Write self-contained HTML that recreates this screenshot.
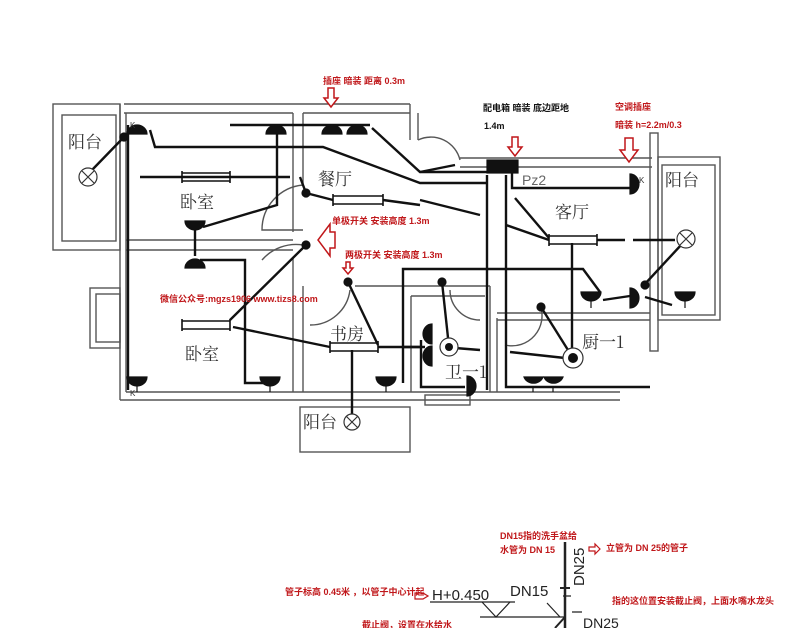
<!DOCTYPE html>
<html><head><meta charset="utf-8"><style>
html,body{margin:0;padding:0;background:#fff;}
svg{display:block;}
text{font-family:"Liberation Sans","Noto Sans CJK SC",sans-serif;}
.r{fill:#c0171a;font-size:9px;font-weight:bold;}
.k{fill:#111;font-size:9px;font-weight:bold;}
.rm{fill:#333;font-size:17px;font-family:"Noto Serif CJK SC","Noto Sans CJK SC",serif;}
</style></head><body>
<svg width="790" height="628" viewBox="0 0 790 628" xmlns="http://www.w3.org/2000/svg">
<rect width="790" height="628" fill="#fff"/>
<!-- walls -->
<g fill="none" stroke="#555" stroke-width="1.4">
 <rect x="53" y="104" width="67" height="146"/>
 <rect x="62" y="115" width="54" height="126"/>
 <line x1="124" y1="104" x2="410" y2="104"/>
 <line x1="124" y1="113" x2="293" y2="113"/>
 <line x1="303" y1="113" x2="410" y2="113"/>
 <line x1="120" y1="104" x2="120" y2="400"/>
 <line x1="126" y1="113" x2="126" y2="392"/>
 <line x1="293" y1="113" x2="293" y2="232"/>
 <line x1="303" y1="113" x2="303" y2="185"/>
 <line x1="126" y1="240" x2="293" y2="240"/>
 <line x1="126" y1="250" x2="293" y2="250"/>
 <line x1="293" y1="258" x2="293" y2="392"/>
 <line x1="303" y1="286" x2="303" y2="392"/>
 <line x1="120" y1="400" x2="620" y2="400"/>
 <line x1="126" y1="392" x2="620" y2="392"/>
 <rect x="90" y="288" width="30" height="60"/>
 <rect x="96" y="294" width="24" height="48"/>
 <rect x="300" y="407" width="110" height="45"/>
 <line x1="410" y1="104" x2="410" y2="140"/>
 <line x1="418" y1="113" x2="418" y2="140"/>
 <line x1="460" y1="158" x2="652" y2="158"/>
 <line x1="460" y1="167" x2="652" y2="167"/>
 <rect x="650" y="133" width="8" height="218"/>
 <rect x="658" y="157" width="62" height="163"/>
 <rect x="662" y="165" width="53" height="150"/>
 <line x1="355" y1="286" x2="400" y2="286"/>
 <line x1="400" y1="286" x2="490" y2="286"/>
 <line x1="411" y1="296" x2="485" y2="296"/>
 <line x1="411" y1="296" x2="411" y2="392"/>
 <line x1="490" y1="286" x2="490" y2="392"/>
 <line x1="497" y1="318" x2="497" y2="392"/>
 <line x1="497" y1="313" x2="650" y2="313"/>
 <line x1="497" y1="320" x2="650" y2="320"/>
 <rect x="425" y="395" width="45" height="10"/>
 <path d="M303 185 A45 45 0 0 0 262 230 L303 230"/>
 <path d="M303 245 A45 45 0 0 0 262 260"/>
 <path d="M350 290 A40 40 0 0 1 310 325"/>
 <path d="M418 140 A30 30 0 0 1 460 160"/>
 <path d="M450 290 A30 30 0 0 0 480 320"/>
 <path d="M540 305 A30 30 0 0 1 505 345"/>
</g>
<!-- wiring -->
<g fill="none" stroke="#111" stroke-width="2.4">
 <polyline points="150,130 155,147 323,147 420,183 487,183"/>
 <line x1="230" y1="125" x2="370" y2="125"/>
 <polyline points="372,128 420,172 490,172"/>
 <line x1="140" y1="177" x2="290" y2="177"/>
 <polyline points="300,177 306,193 333,200"/>
 <line x1="383" y1="200" x2="420" y2="205"/>
 <line x1="92" y1="170" x2="124" y2="137"/>
 <line x1="128" y1="125" x2="128" y2="390"/>
 <polyline points="203,227 277,205 277,130"/>
 <line x1="195" y1="228" x2="195" y2="256"/>
 <polyline points="200,260 245,260 245,383 270,383"/>
 <polyline points="230,320 306,245"/>
 <polyline points="233,327 330,347"/>
 <line x1="378" y1="347" x2="420" y2="347"/>
 <polyline points="348,282 378,345"/>
 <line x1="352" y1="350" x2="352" y2="415"/>
 <polyline points="403,383 403,269 583,269 600,292"/>
 <line x1="420" y1="172" x2="455" y2="165"/>
 <polyline points="512,172 512,188 630,188"/>
 <polyline points="487,175 487,390"/>
 <polyline points="506,175 506,387 650,387"/>
 <polyline points="515,198 549,238"/>
 <line x1="420" y1="200" x2="480" y2="215"/>
 <line x1="506" y1="225" x2="549" y2="240"/>
 <line x1="597" y1="240" x2="625" y2="240"/>
 <line x1="633" y1="240" x2="675" y2="240"/>
 <line x1="572" y1="243" x2="572" y2="352"/>
 <line x1="644" y1="285" x2="682" y2="244"/>
 <polyline points="603,300 630,296"/>
 <polyline points="645,297 672,305"/>
 <polyline points="541,307 573,358"/>
 <line x1="510" y1="352" x2="565" y2="358"/>
 <polyline points="442,282 449,347"/>
 <line x1="455" y1="348" x2="480" y2="350"/>
 <polyline points="421,340 421,387 465,387"/>
 <line x1="403" y1="347" x2="425" y2="347"/>
</g>
<!-- tubes (double line) -->
<g fill="#fff" stroke="#111" stroke-width="1.6">
 <path d="M182 173 h48 M182 181 h48 M182 171 v12 M230 171 v12"/>
 <path d="M333 196 h50 M333 204 h50 M333 194 v12 M383 194 v12"/>
 <path d="M182 321 h48 M182 329 h48 M182 319 v12 M230 319 v12"/>
 <path d="M330 343 h48 M330 351 h48 M330 341 v12 M378 341 v12"/>
 <path d="M549 236 h48 M549 244 h48 M549 234 v12 M597 234 v12"/>
</g>
<!-- sockets -->
<g fill="#111" stroke="#111" stroke-width="1.2">
 <path d="M127 134 A10 9 0 0 1 147 134 Z"/>
 <path d="M266 134 A10 9 0 0 1 286 134 Z"/>
 <path d="M322 134 A10 9 0 0 1 342 134 Z"/>
 <path d="M347 134 A10 9 0 0 1 367 134 Z"/>
 <path d="M185 221 A10 9 0 0 0 205 221 Z"/>
 <path d="M185 268 A10 9 0 0 1 205 268 Z"/>
 <path d="M127 377 A10 9 0 0 0 147 377 Z"/><line x1="137" y1="386" x2="137" y2="392"/>
 <path d="M260 377 A10 9 0 0 0 280 377 Z"/><line x1="270" y1="386" x2="270" y2="392"/>
 <path d="M376 377 A10 9 0 0 0 396 377 Z"/><line x1="386" y1="386" x2="386" y2="392"/>
 <path d="M524 377 A10 9 0 0 0 543 377 Z"/><line x1="533" y1="386" x2="533" y2="392"/>
 <path d="M544 377 A10 9 0 0 0 563 377 Z"/><line x1="553" y1="386" x2="553" y2="392"/>
 <path d="M581 292 A10 9 0 0 0 601 292 Z"/><line x1="591" y1="301" x2="591" y2="308"/>
 <path d="M675 292 A10 9 0 0 0 695 292 Z"/><line x1="685" y1="301" x2="685" y2="308"/>
 <path d="M630 288 A9 10 0 0 1 630 308 Z"/>
 <path d="M630 174 A9 10 0 0 1 630 194 Z"/>
 <path d="M432 324 A9 10 0 0 0 432 344 Z"/>
 <path d="M432 346 A9 10 0 0 0 432 366 Z"/>
 <path d="M467 376 A9 10 0 0 1 467 396 Z"/>
 <rect x="487" y="160" width="31" height="13"/>
 <circle cx="124" cy="137" r="4"/><circle cx="306" cy="193" r="4"/>
 <circle cx="306" cy="245" r="4"/><circle cx="348" cy="282" r="4"/>
 <circle cx="442" cy="282" r="4"/><circle cx="541" cy="307" r="4"/>
 <circle cx="645" cy="285" r="4"/>
</g>
<!-- lamps -->
<g fill="#fff" stroke="#333" stroke-width="1.2">
 <circle cx="88" cy="177" r="9"/><path d="M82 171 L94 183 M94 171 L82 183"/>
 <circle cx="352" cy="422" r="8"/><path d="M346 416 L358 428 M358 416 L346 428"/>
 <circle cx="686" cy="239" r="9"/><path d="M680 233 L692 245 M692 233 L680 245"/>
 <circle cx="449" cy="347" r="9"/><circle cx="573" cy="358" r="10"/>
</g>
<circle cx="449" cy="347" r="4" fill="#111"/><circle cx="573" cy="358" r="5" fill="#111"/>
<!-- room labels -->
<text class="rm" x="68" y="148">阳台</text>
<text class="rm" x="180" y="208">卧室</text>
<text class="rm" x="318" y="185">餐厅</text>
<text class="rm" x="185" y="360">卧室</text>
<text class="rm" x="330" y="340">书房</text>
<text class="rm" x="303" y="428">阳台</text>
<text class="rm" x="555" y="218">客厅</text>
<text class="rm" x="665" y="186">阳台</text>
<text class="rm" x="582" y="348">厨一1</text>
<text class="rm" x="445" y="378">卫一1</text>
<text x="522" y="185" fill="#666" font-size="14">Pz2</text>
<text x="130" y="128" font-size="8" fill="#333">K</text>
<text x="639" y="183" font-size="8" fill="#333">K</text>
<text x="130" y="396" font-size="8" fill="#333">K</text>
<!-- annotations -->
<text class="r" x="323" y="84">插座 暗装 距离 0.3m</text>
<text class="k" x="483" y="111">配电箱 暗装 底边距地</text>
<text class="k" x="484" y="129">1.4m</text>
<text class="r" x="615" y="110">空调插座</text>
<text class="r" x="615" y="128">暗装 h=2.2m/0.3</text>
<text class="r" x="332" y="224">单极开关 安装高度 1.3m</text>
<text class="r" x="345" y="258">两极开关 安装高度 1.3m</text>
<text class="r" x="160" y="302">微信公众号:mgzs1906   www.tizs8.com</text>
<g fill="#fff" stroke="#c0171a" stroke-width="1.5">
 <path d="M328 88 h6 v10 h4 l-7 9 l-7 -9 h4 z"/>
 <path d="M512 137 h6 v10 h4 l-7 9 l-7 -9 h4 z"/>
 <path d="M625 138 h8 v12 h5 l-9 12 l-9 -12 h5 z"/>
 <path d="M330 232 v-8 l-12 16 l12 16 v-8 h5 v-16 z"/>
 <path d="M346 262 h4 v6 h3 l-5 6 l-5 -6 h3 z"/>
</g>
<!-- plumbing -->
<text class="r" x="500" y="539">DN15指的洗手盆给</text>
<text class="r" x="500" y="553">水管为 DN  15</text>
<text class="r" x="606" y="551">立管为  DN  25的管子</text>
<text class="r" x="285" y="595">管子标高 0.45米 ，以管子中心计起</text>
<text class="r" x="612" y="604">指的这位置安装截止阀，上面水嘴水龙头</text>
<text class="r" x="362" y="628">截止阀，设置在水给水</text>
<g fill="none" stroke="#c0171a" stroke-width="1.2">
 <path d="M600 549 l-5 -5 v3 h-6 v4 h6 v3 z"/>
 <path d="M415 593 h8 l5 3 l-5 3 h-8 z"/>
</g>
<g stroke="#222" stroke-width="1.2" fill="none">
 <line x1="430" y1="602" x2="515" y2="602"/>
 <path d="M482 602 l14 15 l14 -15"/>
 <line x1="480" y1="617" x2="565" y2="617"/>
 <line x1="547" y1="603" x2="560" y2="617"/>
 <line x1="565" y1="542" x2="565" y2="628" stroke-width="2.5"/>
 <line x1="560" y1="588" x2="570" y2="588" stroke-width="2"/>
 <path d="M563 596 h8 M582 612 h-10"/>
 <line x1="555" y1="628" x2="565" y2="617" stroke-width="2"/>
</g>
<text x="432" y="600" fill="#222" font-size="15">H+0.450</text>
<text x="510" y="596" fill="#222" font-size="15">DN15</text>
<text x="583" y="628" fill="#222" font-size="14">DN25</text>
<text transform="translate(584,586) rotate(-90)" fill="#222" font-size="15">DN25</text>
</svg>
</body></html>
